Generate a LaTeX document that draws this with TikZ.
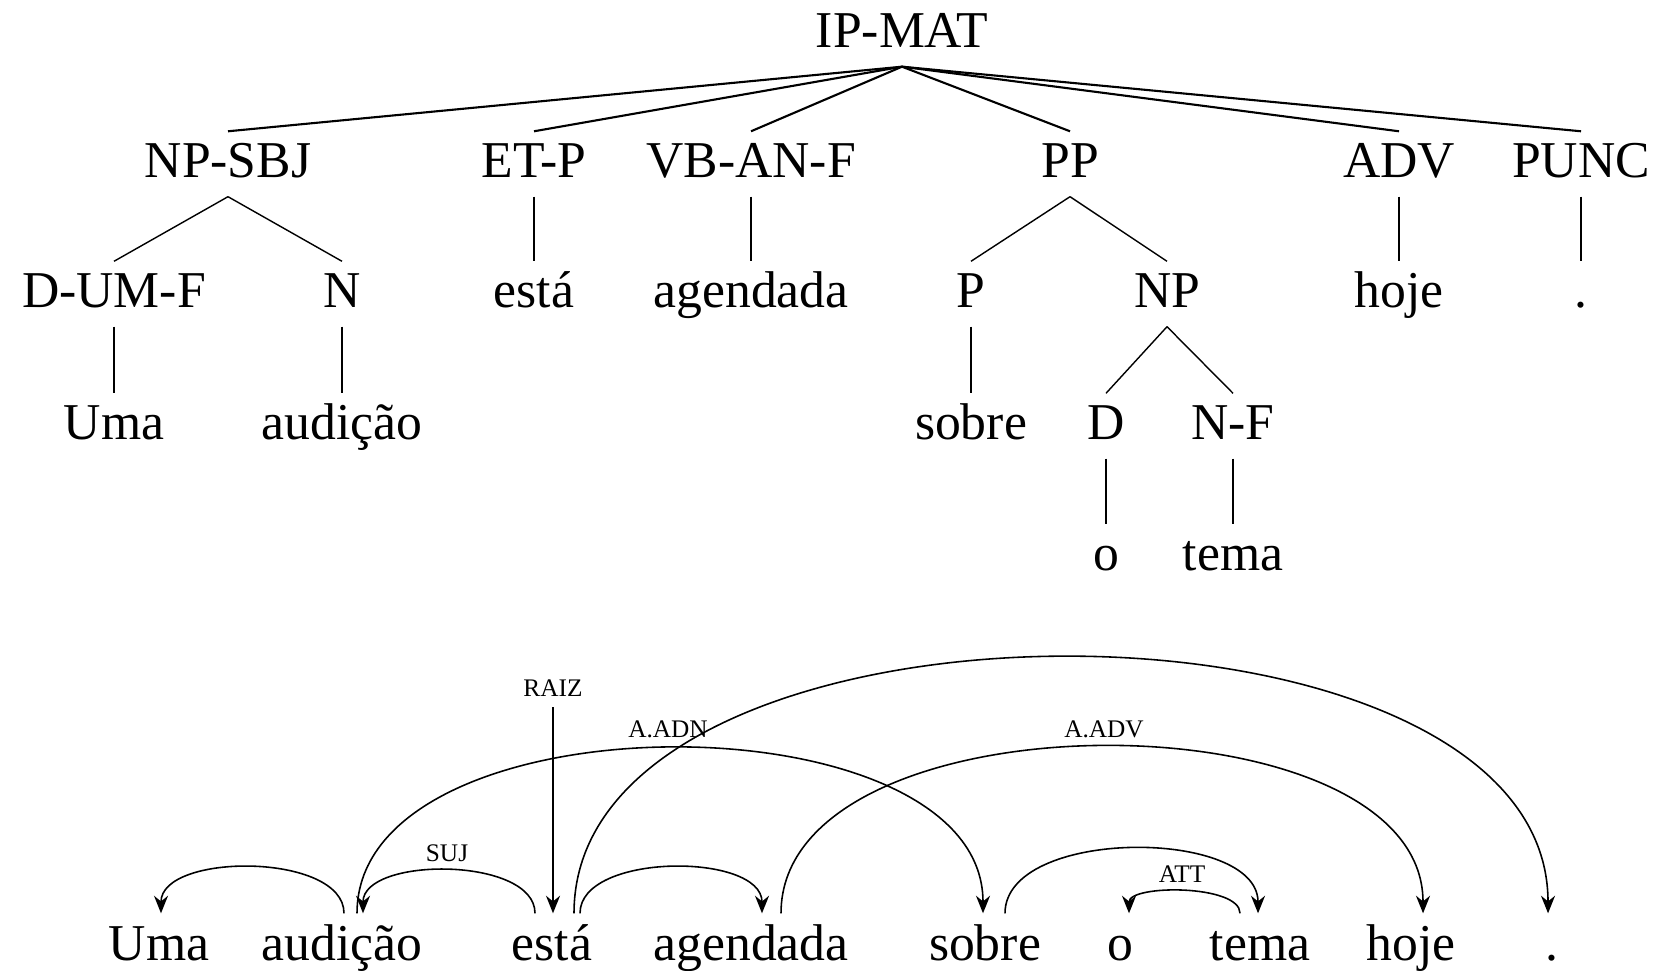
\documentclass[tikz,border=0pt]{standalone}
\usepackage{fontspec}
\setmainfont{Liberation Serif}
\usepackage{tikz}
\usetikzlibrary{positioning,arrows.meta}

\tikzset{
    cat/.style={anchor=base, inner xsep=1pt, inner ysep=0.12cm, text height=0.34cm, text depth=0.06cm, font=\fontsize{14.7}{16}\selectfont},
    rel/.style={inner sep=1pt, font=\fontsize{7.2}{8}\selectfont},
    dep/.style={draw, line width=0.45pt, -{Stealth[length=5pt,width=4pt]}},
}

\begin{document}
\begin{tikzpicture}[scale=1]
    \useasboundingbox (0,0) rectangle (16.64,9.70);

    % constituent tree
    \node[cat] (ipmat) at (9.02,9.22) {IP-MAT};

    \node[cat] (npsbj) at (2.28,7.92) {NP-SBJ};
    \node[cat] (etp) at (5.34,7.92) {ET-P};
    \node[cat] (vbanf) at (7.51,7.92) {VB-AN-F};
    \node[cat] (pp) at (10.70,7.92) {PP};
    \node[cat] (adv) at (13.99,7.92) {ADV};
    \node[cat] (punc) at (15.81,7.92) {PUNC};

    \node[cat] (dumf) at (1.14,6.62) {D-UM-F};
    \node[cat] (n) at (3.42,6.62) {N};
    \node[cat] (estaT) at (5.34,6.62) {está};
    \node[cat] (agendadaT) at (7.51,6.62) {agendada};
    \node[cat] (p) at (9.71,6.62) {P};
    \node[cat] (np) at (11.67,6.62) {NP};
    \node[cat] (hojeT) at (13.99,6.62) {hoje};
    \node[cat] (dotT) at (15.81,6.62) {.};

    \node[cat] (umaT) at (1.14,5.30) {Uma};
    \node[cat] (audicaoT) at (3.42,5.30) {audição};
    \node[cat] (sobreT) at (9.71,5.30) {sobre};
    \node[cat] (d) at (11.06,5.30) {D};
    \node[cat] (nf) at (12.33,5.30) {N-F};

    \node[cat] (oT) at (11.06,3.99) {o};
    \node[cat] (temaT) at (12.33,3.99) {tema};

    \path[draw, semithick] (ipmat.south) -- (npsbj.north);
    \path[draw, semithick] (ipmat.south) -- (etp.north);
    \path[draw, semithick] (ipmat.south) -- (vbanf.north);
    \path[draw, semithick] (ipmat.south) -- (pp.north);
    \path[draw, semithick] (ipmat.south) -- (adv.north);
    \path[draw, semithick] (ipmat.south) -- (punc.north);

    \path[draw, thin] (npsbj.south) -- (dumf.north);
    \path[draw, thin] (npsbj.south) -- (n.north);
    \path[draw, thin] (etp.south) -- (estaT.north);
    \path[draw, thin] (vbanf.south) -- (agendadaT.north);
    \path[draw, thin] (pp.south) -- (p.north);
    \path[draw, thin] (pp.south) -- (np.north);
    \path[draw, thin] (adv.south) -- (hojeT.north);
    \path[draw, thin] (punc.south) -- (dotT.north);

    \path[draw, thin] (dumf.south) -- (umaT.north);
    \path[draw, thin] (n.south) -- (audicaoT.north);
    \path[draw, thin] (p.south) -- (sobreT.north);
    \path[draw, thin] (np.south) -- (d.north);
    \path[draw, thin] (np.south) -- (nf.north);

    \path[draw, thin] (d.south) -- (oT.north);
    \path[draw, thin] (nf.south) -- (temaT.north);

    % dependency structure
    \node[cat] (uma) at (1.59,0.10) {Uma};
    \node[cat] (audicao) at (3.42,0.10) {audição};
    \node[cat] (esta) at (5.52,0.10) {está};
    \node[cat] (agendada) at (7.51,0.10) {agendada};
    \node[cat] (sobre) at (9.85,0.10) {sobre};
    \node[cat] (o) at (11.20,0.10) {o};
    \node[cat] (tema) at (12.60,0.10) {tema};
    \node[cat] (hoje) at (14.11,0.10) {hoje};
    \node[cat] (dot) at (15.52,0.10) {.};

    \coordinate (root) at (5.53,2.63);
    \node[rel] (raiz) at (5.53,2.82) {RAIZ};
    \path[dep] (root) -- ([xshift=0.01cm]esta.north);

    \path[dep] ([xshift=0.02cm]audicao.north) .. controls +(0,0.61) and +(0,0.61) .. ([xshift=0.02cm]uma.north);
    \path[dep] ([xshift=-0.17cm]esta.north) .. controls +(0,0.57) and +(0,0.57) .. ([xshift=0.21cm]audicao.north);
    \node[rel] (suj) at (4.47,1.17) {SUJ};
    \path[dep] ([xshift=0.28cm]esta.north) .. controls +(0,0.61) and +(0,0.61) .. ([xshift=0.11cm]agendada.north);
    \path[dep] ([xshift=0.15cm]audicao.north) .. controls +(0,2.20) and +(0,2.20) .. ([xshift=-0.02cm]sobre.north);
    \node[rel] (aadn) at (6.68,2.41) {A.ADN};
    \path[dep] ([xshift=0.22cm]esta.north) .. controls +(0,3.41) and +(0,3.41) .. ([xshift=-0.04cm]dot.north);
    \path[dep] ([xshift=0.30cm]agendada.north) .. controls +(0,2.22) and +(0,2.22) .. ([xshift=0.12cm]hoje.north);
    \node[rel] (aadv) at (11.04,2.41) {A.ADV};
    \path[dep] ([xshift=0.20cm]sobre.north) .. controls +(0,0.86) and +(0,0.86) .. ([xshift=-0.02cm]tema.north);
    \path[dep] ([xshift=-0.20cm]tema.north) .. controls +(0,0.29) and +(0,0.29) .. ([xshift=0.09cm]o.north);
    \node[rel] (att) at (11.82,0.96) {ATT};
\end{tikzpicture}
\end{document}
